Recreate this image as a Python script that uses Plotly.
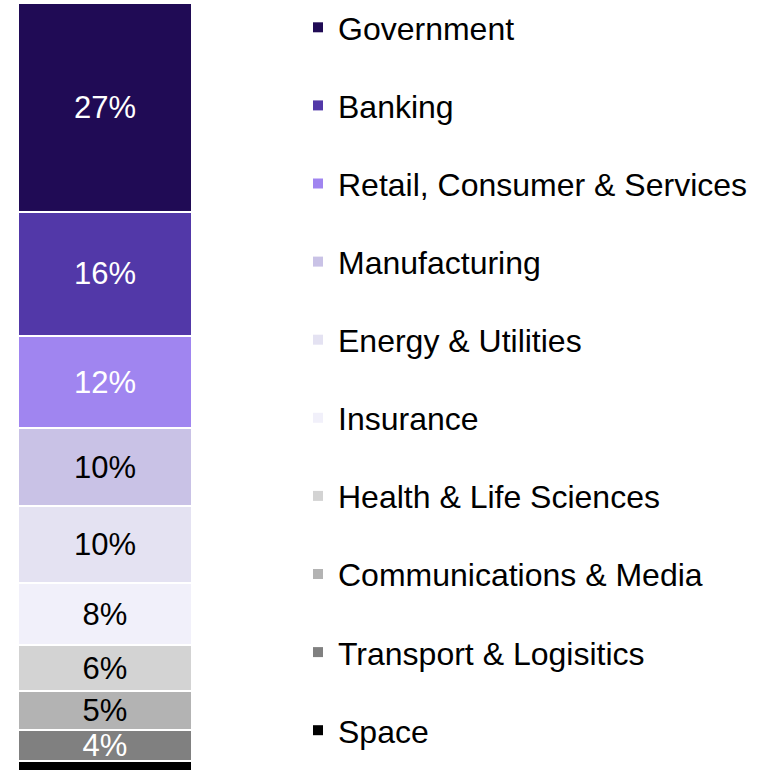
import plotly.graph_objects as go

sectors = ["Government", "Banking", "Retail, Consumer & Services", "Manufacturing",
           "Energy & Utilities", "Insurance", "Health & Life Sciences",
           "Communications & Media", "Transport & Logisitics", "Space"]
shares = [27, 16, 12, 10, 10, 8, 6, 5, 4, 2]
labels = ["27%", "16%", "12%", "10%", "10%", "8%", "6%", "5%", "4%", ""]
colors = ["#200b55", "#5238a8", "#a085f0", "#c9c2e6", "#e4e2f2",
          "#f1f0fa", "#d3d3d3", "#b3b3b3", "#808080", "#000000"]
text_colors = ["white", "white", "white", "black", "black",
               "black", "black", "black", "white", "white"]

fig = go.Figure()

# bars stacked from the bottom up, so Space goes first
for name, val, lab, col, tcol in reversed(list(zip(sectors, shares, labels, colors, text_colors))):
    fig.add_trace(go.Bar(
        x=["share"], y=[val], name=name, text=[lab],
        marker=dict(color=col, line=dict(color="white", width=2)),
        textposition="inside", insidetextanchor="middle",
        textfont=dict(color=tcol, size=31, family="Liberation Sans, Arial"),
        showlegend=False, width=1,
    ))

# legend entries with small square markers, Government on top
for i, (name, col) in enumerate(zip(sectors, colors)):
    fig.add_trace(go.Scatter(
        x=[None], y=[None], mode="markers", name=name, legendgroup=str(i),
        marker=dict(symbol="square", size=10, color=col),
    ))

fig.update_layout(
    barmode="stack",
    width=761, height=770,
    margin=dict(l=0, r=0, t=3, b=0),
    paper_bgcolor="white", plot_bgcolor="white",
    font=dict(family="Liberation Sans, Arial", size=31, color="black"),
    uniformtext=dict(minsize=31, mode="show"),
    legend=dict(x=298 / 761, y=1 - 368.5 / 767, xanchor="left", yanchor="middle",
                tracegroupgap=33.5, itemsizing="trace",
                font=dict(size=32), bgcolor="rgba(0,0,0,0)"),
    showlegend=True,
)
fig.update_xaxes(domain=[18 / 761, 192 / 761], range=[-0.5, 0.5],
                 visible=False, showgrid=False)
fig.update_yaxes(range=[0.84, 100], visible=False, showgrid=False)

# drop the default page margin so the figure sits at the window corner
fig.write_html("out.html", config={"displayModeBar": False},
               post_script="document.body.style.margin='0';")
